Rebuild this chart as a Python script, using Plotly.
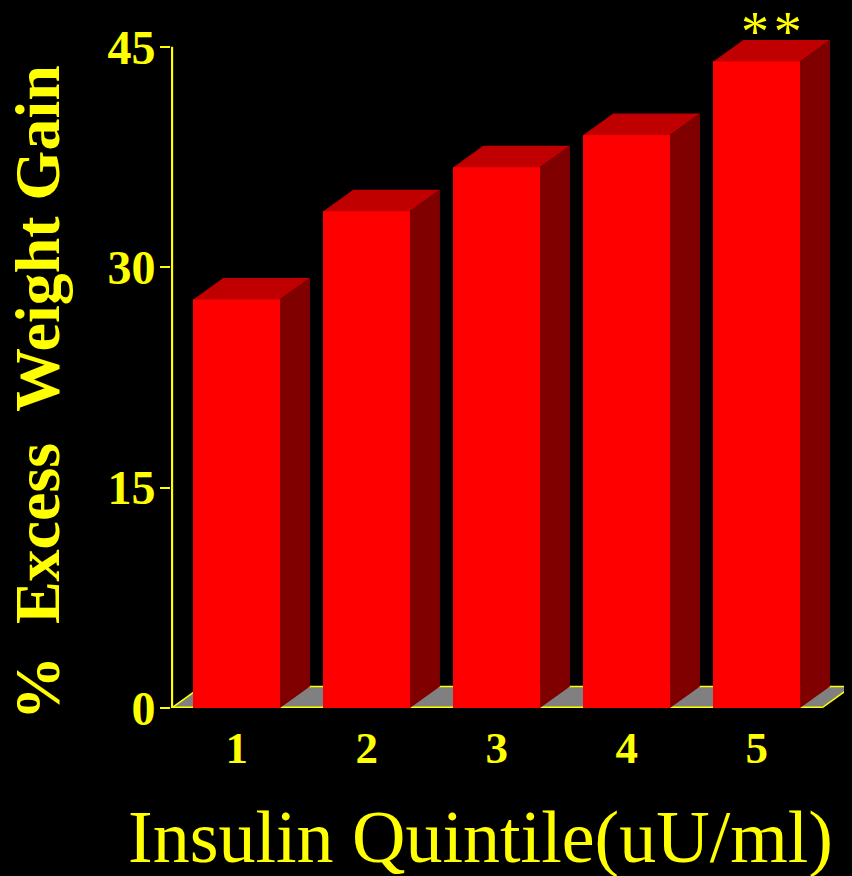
import plotly.graph_objects as go

# ---- data ----
quintiles = [1, 2, 3, 4, 5]
tick_labels = ["1", "2", "3", "4", "5"]
excess_weight_gain = [27.8, 33.8, 36.8, 39.0, 44.0]
y_ticks = [0, 15, 30, 45]
x_title = "Insulin Quintile(uU/ml)"
y_title = "%\u00a0 Excess\u00a0 Weight Gain"
significance = "*\u200a*"

# ---- style ----
YELLOW = "#FFFF00"
FRONT = "#FF0000"
TOP = "#C00000"
SIDE = "#800000"
FLOOR = "#808080"
FONT = "Liberation Serif"
BAR_W = 0.667
DX = 0.23      # depth offset (category units)
DY = 1.46      # depth offset (value units)
X_LO, X_HI = 0.495, 5.733
Y_HI = 46.82
FLOOR_L, FLOOR_R = 0.5, 5.5

fig = go.Figure()

# front faces
fig.add_trace(go.Bar(
    x=quintiles, y=excess_weight_gain, width=BAR_W,
    marker=dict(color=FRONT, line=dict(width=0)),
    hoverinfo="skip", showlegend=False,
))

# top and side faces derived from the data
for q, v in zip(quintiles, excess_weight_gain):
    xl, xr = q - BAR_W / 2, q + BAR_W / 2
    fig.add_trace(go.Scatter(
        x=[xl, xl + DX, xr + DX, xr, xl],
        y=[v, v + DY, v + DY, v, v],
        mode="lines", fill="toself", fillcolor=TOP,
        line=dict(width=0, color=TOP), hoverinfo="skip", showlegend=False,
    ))
    fig.add_trace(go.Scatter(
        x=[xr, xr, xr + DX, xr + DX, xr],
        y=[0, v, v + DY, DY, 0],
        mode="lines", fill="toself", fillcolor=SIDE,
        line=dict(width=0, color=SIDE), hoverinfo="skip", showlegend=False,
    ))

# y axis line (0 to 45)
fig.add_trace(go.Scatter(
    x=[FLOOR_L, FLOOR_L], y=[0, y_ticks[-1]], mode="lines",
    line=dict(color=YELLOW, width=3), hoverinfo="skip", showlegend=False,
))

# floor (below traces)
fig.add_shape(
    type="path", xref="x", yref="y", layer="below",
    path=f"M {FLOOR_L},0 L {FLOOR_R},0 L {FLOOR_R + DX},{DY} L {FLOOR_L + DX},{DY} Z",
    fillcolor=FLOOR, line=dict(color=YELLOW, width=1.5),
)
fig.add_shape(
    type="line", xref="x", yref="y", layer="below",
    x0=FLOOR_L, x1=FLOOR_R, y0=0, y1=0,
    line=dict(color=YELLOW, width=3),
)

# significance marker on last bar
fig.add_annotation(
    x=quintiles[-1] + DX / 2, y=excess_weight_gain[-1] + DY,
    text=significance, showarrow=False, xref="x", yref="y",
    yanchor="middle", yshift=8,
    font=dict(family=FONT, size=56, color=YELLOW),
)

# x title
fig.add_annotation(
    text=x_title, xref="paper", yref="paper", x=0.455, y=-0.187,
    xanchor="center", yanchor="middle", showarrow=False,
    font=dict(family=FONT, size=74, color=YELLOW),
)

# y title
fig.add_annotation(
    text=y_title, xref="paper", yref="paper", x=-0.195, y=0.458,
    xanchor="center", yanchor="middle", showarrow=False, textangle=-90,
    font=dict(family=FONT, size=64, color=YELLOW, weight="bold"),
)

fig.update_layout(
    width=844, height=868,
    margin=dict(l=163, r=0, t=12, b=168),
    paper_bgcolor="black", plot_bgcolor="black",
    bargap=0,
    xaxis=dict(
        range=[X_LO, X_HI], tickmode="array", tickvals=quintiles, ticktext=tick_labels,
        showgrid=False, zeroline=False, showline=False, ticks="",
        ticklabelstandoff=9,
        tickfont=dict(family=FONT, size=45, color=YELLOW, weight="bold"),
    ),
    yaxis=dict(
        range=[0, Y_HI], tickmode="array", tickvals=y_ticks,
        showgrid=False, zeroline=False, showline=False,
        ticks="outside", ticklen=10, tickwidth=2, tickcolor=YELLOW,
        ticklabelstandoff=-5,
        tickfont=dict(family=FONT, size=48, color=YELLOW, weight="bold"),
    ),
)

fig.write_html(
    "out.html",
    post_script="document.body.style.background='black';",
)
